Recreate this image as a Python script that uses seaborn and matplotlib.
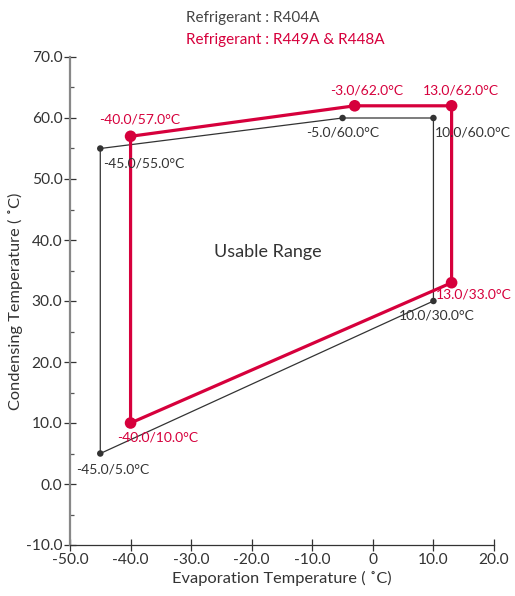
import numpy as np
import pandas as pd
import seaborn as sns
import matplotlib.pyplot as plt
from matplotlib.ticker import FixedLocator

sns.set_style('white')
plt.rcParams['font.family'] = ['Lato', 'DejaVu Sans']

# R404A envelope
gray_x = [-45.0, -5.0, 10.0, 10.0, -45.0]
gray_y = [55.0, 60.0, 60.0, 30.0, 5.0]
# R449A & R448A envelope
red_x = [-40.0, -3.0, 13.0, 13.0, -40.0]
red_y = [57.0, 62.0, 62.0, 33.0, 10.0]

x_ticks = [-50, -40, -30, -20, -10, 0, 10, 20]
x_labels = ['-50.0', '-40.0', '-30.0', '-20.0', '-10.0', '0', '10.0', '20.0']
y_ticks = [-10, 0, 10, 20, 30, 40, 50, 60, 70]

RED = '#d6003c'
GRAY = '#333333'

fig = plt.figure(figsize=(5.15, 5.96), dpi=100)
ax = fig.add_axes([70 / 515, 51 / 596, 424 / 515, 488 / 596])

gdf = pd.DataFrame({'x': gray_x + gray_x[:1], 'y': gray_y + gray_y[:1]})
rdf = pd.DataFrame({'x': red_x + red_x[:1], 'y': red_y + red_y[:1]})

sns.lineplot(data=gdf, x='x', y='y', sort=False, estimator=None, color=GRAY, lw=0.9, ax=ax)
sns.scatterplot(x=gray_x, y=gray_y, color=GRAY, s=22, edgecolor='none', ax=ax, zorder=3)
sns.lineplot(data=rdf, x='x', y='y', sort=False, estimator=None, color=RED, lw=2.3, ax=ax)
sns.scatterplot(x=red_x, y=red_y, color=RED, s=70, edgecolor='none', ax=ax, zorder=4)

fs = 10
def lab(x, y):
    return f'{x:.1f}/{y:.1f}\u00b0C'

# gray labels
ax.text(-44.6, 53.6, lab(-45, 55), color=GRAY, fontsize=fs, ha='left', va='top')
ax.text(-5.0, 58.6, lab(-5, 60), color=GRAY, fontsize=fs, ha='center', va='top')
ax.text(10.3, 58.6, lab(10, 60), color=GRAY, fontsize=fs, ha='left', va='top')
ax.text(10.6, 28.6, lab(10, 30), color=GRAY, fontsize=fs, ha='center', va='top')
ax.text(-43.0, 3.4, lab(-45, 5), color=GRAY, fontsize=fs, ha='center', va='top')

# red labels
ax.text(-38.5, 58.8, lab(-40, 57), color=RED, fontsize=fs, ha='center', va='bottom')
ax.text(-1.0, 63.6, lab(-3, 62), color=RED, fontsize=fs, ha='center', va='bottom')
ax.text(14.5, 63.6, lab(13, 62), color=RED, fontsize=fs, ha='center', va='bottom')
ax.text(22.9, 32.0, lab(13, 33), color=RED, fontsize=fs, ha='right', va='top')
ax.text(-35.5, 8.6, lab(-40, 10), color=RED, fontsize=fs, ha='center', va='top')

ax.text(-17.3, 38.0, 'Usable Range', color=GRAY, fontsize=13, ha='center', va='center')

fig.text(186 / 515, 1 - 18 / 596, 'Refrigerant : R404A', color='#444444', fontsize=11, ha='left', va='center')
fig.text(186 / 515, 1 - 40 / 596, 'Refrigerant : R449A & R448A', color=RED, fontsize=11, ha='left', va='center')

ax.set_xlim(-50, 20)
ax.set_ylim(-10, 70)
ax.set_xticks(x_ticks)
ax.set_xticklabels(x_labels)
ax.set_yticks(y_ticks)
ax.set_yticklabels([f'{v:.1f}' for v in y_ticks])
ax.yaxis.set_minor_locator(FixedLocator([-5, 5, 15, 25, 35, 45, 55, 65]))

ax.set_xlabel('Evaporation Temperature ( \u02daC)', fontsize=11.8, color='#333333', labelpad=3)
ax.set_ylabel('Condensing Temperature ( \u02daC)', fontsize=11.8, color='#333333', labelpad=2)

for s in ['top', 'right']:
    ax.spines[s].set_visible(False)
ax.spines['left'].set_color('#888888')
ax.spines['left'].set_linewidth(1.6)
ax.spines['bottom'].set_color('#333333')
ax.spines['bottom'].set_linewidth(0.9)

ax.tick_params(axis='x', which='major', bottom=True, direction='inout', length=9, width=0.9,
               color='#333333', labelsize=11.2, labelcolor='#333333', pad=1)
ax.tick_params(axis='y', which='major', left=True, direction='inout', length=9, width=0.9,
               color='#333333', labelsize=11.2, labelcolor='#333333', pad=1)
ax.tick_params(axis='y', which='minor', left=True, direction='in', length=3, width=0.9, color='#555555')

fig.savefig('out.png', dpi=100)
